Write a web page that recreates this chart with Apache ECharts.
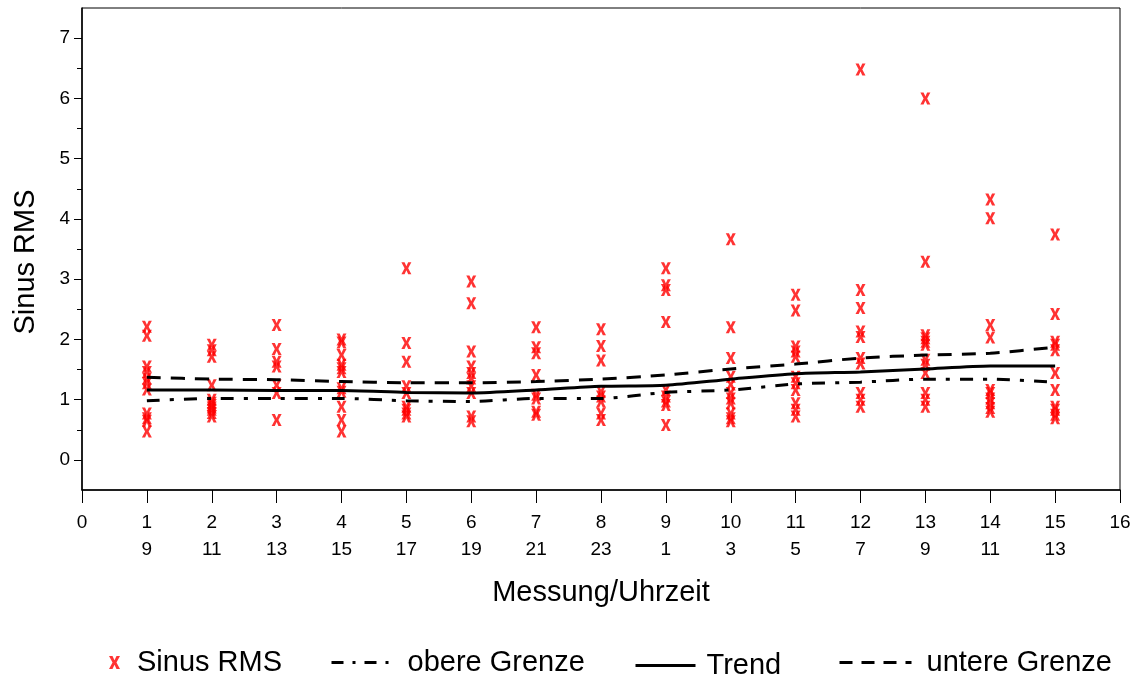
<!DOCTYPE html>
<html>
<head>
<meta charset="utf-8">
<script src="https://cdn.jsdelivr.net/npm/echarts@6/dist/echarts.min.js"></script>
<style>html,body{margin:0;padding:0;background:#fff}#c{width:1140px;height:677px}</style>
</head>
<body>
<div id="c"></div>
<script>
// Messung index and corresponding hour (Uhrzeit)
const messung = [1,2,3,4,5,6,7,8,9,10,11,12,13,14,15];
const uhrzeit = [9,11,13,15,17,19,21,23,1,3,5,7,9,11,13];
const xTicks = [0,1,2,3,4,5,6,7,8,9,10,11,12,13,14,15,16];
const yTicks = [0,1,2,3,4,5,6,7];
const yMinorTicks = [0.5,1.5,2.5,3.5,4.5,5.5,6.5];

// Sinus RMS readings per Messung
const sinusRms = [
  [2.21,2.06,1.55,1.46,1.35,1.27,1.17,0.77,0.69,0.65,0.47],
  [1.91,1.82,1.71,1.24,1.00,0.95,0.91,0.87,0.83,0.78,0.72],
  [2.24,1.84,1.63,1.55,1.24,1.11,0.66],
  [2.00,1.95,1.74,1.58,1.52,1.46,1.19,1.13,0.88,0.66,0.47],
  [3.18,1.94,1.63,1.22,1.11,0.88,0.83,0.77,0.72],
  [2.96,2.60,1.80,1.55,1.44,1.35,1.22,1.11,0.72,0.64],
  [2.20,1.87,1.77,1.41,1.08,1.02,0.80,0.75],
  [2.17,1.89,1.65,1.13,1.05,0.97,0.77,0.66],
  [3.18,2.90,2.82,2.29,1.16,1.05,0.97,0.91,0.58],
  [3.66,2.20,1.69,1.38,1.25,1.11,1.02,0.94,0.77,0.69,0.64],
  [2.74,2.48,1.88,1.80,1.71,1.38,1.27,1.16,0.94,0.83,0.72],
  [6.48,2.82,2.52,2.13,2.04,1.69,1.60,1.11,1.00,0.88],
  [6.00,3.29,2.07,2.02,1.96,1.91,1.66,1.58,1.44,1.11,1.00,0.88],
  [4.32,4.01,2.24,2.03,1.16,1.11,1.02,0.94,0.86,0.80],
  [3.74,2.42,1.96,1.91,1.82,1.44,1.16,0.88,0.83,0.75,0.69]
];
const trend        = [1.16,1.16,1.15,1.15,1.12,1.11,1.16,1.22,1.24,1.34,1.43,1.46,1.51,1.56,1.56];
const untereGrenze = [1.37,1.34,1.33,1.30,1.28,1.28,1.30,1.34,1.41,1.51,1.59,1.69,1.74,1.77,1.87];
const obereGrenze  = [0.98,1.02,1.02,1.02,0.98,0.97,1.02,1.02,1.12,1.16,1.26,1.29,1.34,1.34,1.29];

const scatterData = [];
sinusRms.forEach((vals, i) => vals.forEach(v => scatterData.push([messung[i], v])));
const pairs = arr => arr.map((v, i) => [messung[i], v]);

const FONT = 'Liberation Sans';
const xMark = 'path://M0,0 L3.2,0 L5,4 L6.8,0 L10,0 L6.8,6 L10,12 L6.8,12 L5,8 L3.2,12 L0,12 L3.2,6 Z';

const lineLegend = (name, left, top, w, pad, dash) => ({
  data: [name], left: left, top: top, padding: 0, itemWidth: w, itemHeight: 14,
  itemStyle: {opacity: 0},
  lineStyle: {width: 3, type: dash, color: '#000'},
  textStyle: {fontSize: 29, fontFamily: FONT, color: '#000', padding: [0, 0, 0, pad]}
});

const chart = echarts.init(document.getElementById('c'), null, {renderer: 'canvas'});
chart.setOption({
  animation: false,
  textStyle: {fontFamily: FONT, color: '#000'},
  grid: {left: 82, right: 20, top: 8, bottom: 187, show: true, borderColor: '#000', borderWidth: 1, containLabel: false},
  xAxis: {
    type: 'value', min: 0, max: 16, interval: 1,
    axisLine: {show: true, onZero: false, lineStyle: {color: '#000', width: 1.5}},
    axisTick: {show: true, length: 13, lineStyle: {color: '#000'}},
    axisLabel: {
      color: '#000', fontSize: 19, margin: 19, lineHeight: 27, fontFamily: FONT,
      formatter: v => { const i = messung.indexOf(v); return i >= 0 ? v + '\n' + uhrzeit[i] : String(v); }
    },
    splitLine: {show: false},
    name: 'Messung/Uhrzeit', nameLocation: 'middle', nameGap: 88,
    nameTextStyle: {fontSize: 29, color: '#000', fontFamily: FONT}
  },
  yAxis: [{
    type: 'value', min: -0.5, max: 7.5,
    axisLine: {show: true, onZero: false, lineStyle: {color: '#000', width: 1.5}},
    axisTick: {show: true, length: 8, customValues: yTicks, lineStyle: {color: '#000'}},
    axisLabel: {color: '#000', fontSize: 19, margin: 12, customValues: yTicks, fontFamily: FONT},
    splitLine: {show: false},
    name: 'Sinus RMS', nameLocation: 'middle', nameGap: 42, nameRotate: 90,
    nameTextStyle: {fontSize: 29, color: '#000', fontFamily: FONT, padding: [0, 26, 0, 0]}
  }, {
    type: 'value', min: -0.5, max: 7.5, position: 'left',
    axisLine: {show: false},
    axisTick: {show: true, length: 5, customValues: yMinorTicks, lineStyle: {color: '#000'}},
    axisLabel: {show: false},
    splitLine: {show: false}
  }],
  legend: [
    {data: ['Sinus RMS'], left: 109, top: 648, padding: 0, itemWidth: 11, itemHeight: 14,
     textStyle: {fontSize: 29, fontFamily: FONT, color: '#000', padding: [0, 0, 0, 12]}},
    lineLegend('obere Grenze', 330, 648, 66, 5, [12, 9, 3, 9]),
    lineLegend('Trend', 634, 651, 60, 6, 'solid'),
    lineLegend('untere Grenze', 838, 648, 72, 10, [13, 9])
  ],
  series: [
    {
      name: 'Sinus RMS', type: 'scatter', data: scatterData,
      symbol: xMark, symbolSize: [10, 12], itemStyle: {color: '#ff0000'}, z: 2
    },
    {
      name: 'obere Grenze', type: 'line', data: pairs(obereGrenze), symbol: 'none', smooth: 0.25,
      lineStyle: {color: '#000', width: 3, type: [13, 10, 4, 10]}, itemStyle: {color: '#000'}, z: 3
    },
    {
      name: 'Trend', type: 'line', data: pairs(trend), symbol: 'none', smooth: 0.25,
      lineStyle: {color: '#000', width: 3, type: 'solid'}, itemStyle: {color: '#000'}, z: 3
    },
    {
      name: 'untere Grenze', type: 'line', data: pairs(untereGrenze), symbol: 'none', smooth: 0.25,
      lineStyle: {color: '#000', width: 3, type: [14, 10]}, itemStyle: {color: '#000'}, z: 3
    }
  ]
});
</script>
</body>
</html>
